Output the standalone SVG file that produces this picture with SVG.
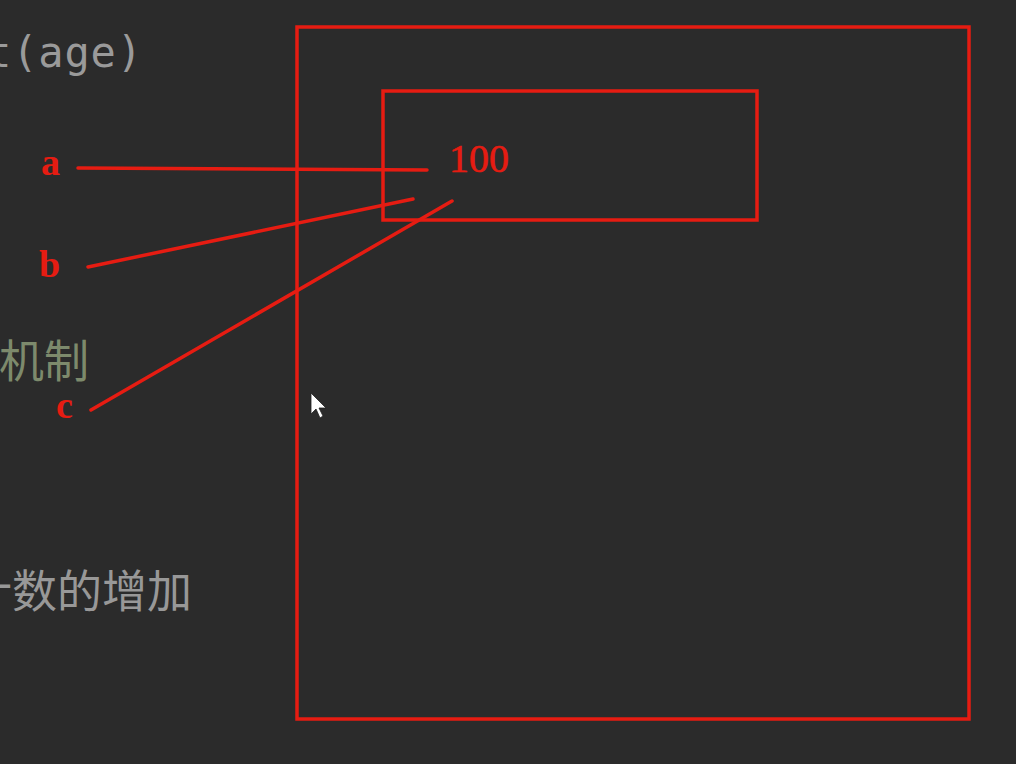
<svg xmlns="http://www.w3.org/2000/svg" width="1016" height="764" viewBox="0 0 1016 764">
<style>
.red{fill:none;stroke:#e61c12;stroke-width:3.5;stroke-linecap:round}
.lbl{font-family:"Liberation Serif",serif;fill:#e61c12;font-weight:bold;font-size:38px}
.code{font-family:"DejaVu Sans Mono",monospace;font-size:42px;fill:#9a9a9a}
.cjk{font-family:"Noto Sans CJK SC",sans-serif;font-size:45px}
</style>
<rect width="1016" height="764" fill="#2b2b2b"/>
<text class="code" x="-14" y="67" textLength="156" lengthAdjust="spacing">t(age)</text>
<text class="cjk" x="-1" y="378" fill="#7d8a6c">机制</text>
<text class="cjk" x="-33" y="608" fill="#989898">计数的增加</text>
<g id="heap"><rect class="red" x="297" y="27" width="672" height="692"/></g>
<g id="obj"><rect class="red" x="383" y="91" width="374" height="129"/>
<text x="449" y="172" font-family="Liberation Serif,serif" font-size="40" fill="#e61c12" stroke="#e61c12" stroke-width="0.6">100</text></g>
<g id="a"><text class="lbl" x="41" y="175">a</text></g>
<g id="b"><text class="lbl" x="39" y="277">b</text></g>
<g id="c"><text class="lbl" x="56" y="418">c</text></g>
<g id="connectors">
<line class="red" x1="78" y1="168" x2="427" y2="170"/>
<line class="red" x1="88" y1="267" x2="413" y2="199"/>
<line class="red" x1="91" y1="410" x2="452" y2="201"/>
</g>
<path d="M311 393 L311 414 L316 409 L320 418 L323 416 L319 408 L326 408 Z" fill="#ffffff" stroke="#222" stroke-width="0.8"/>
</svg>
